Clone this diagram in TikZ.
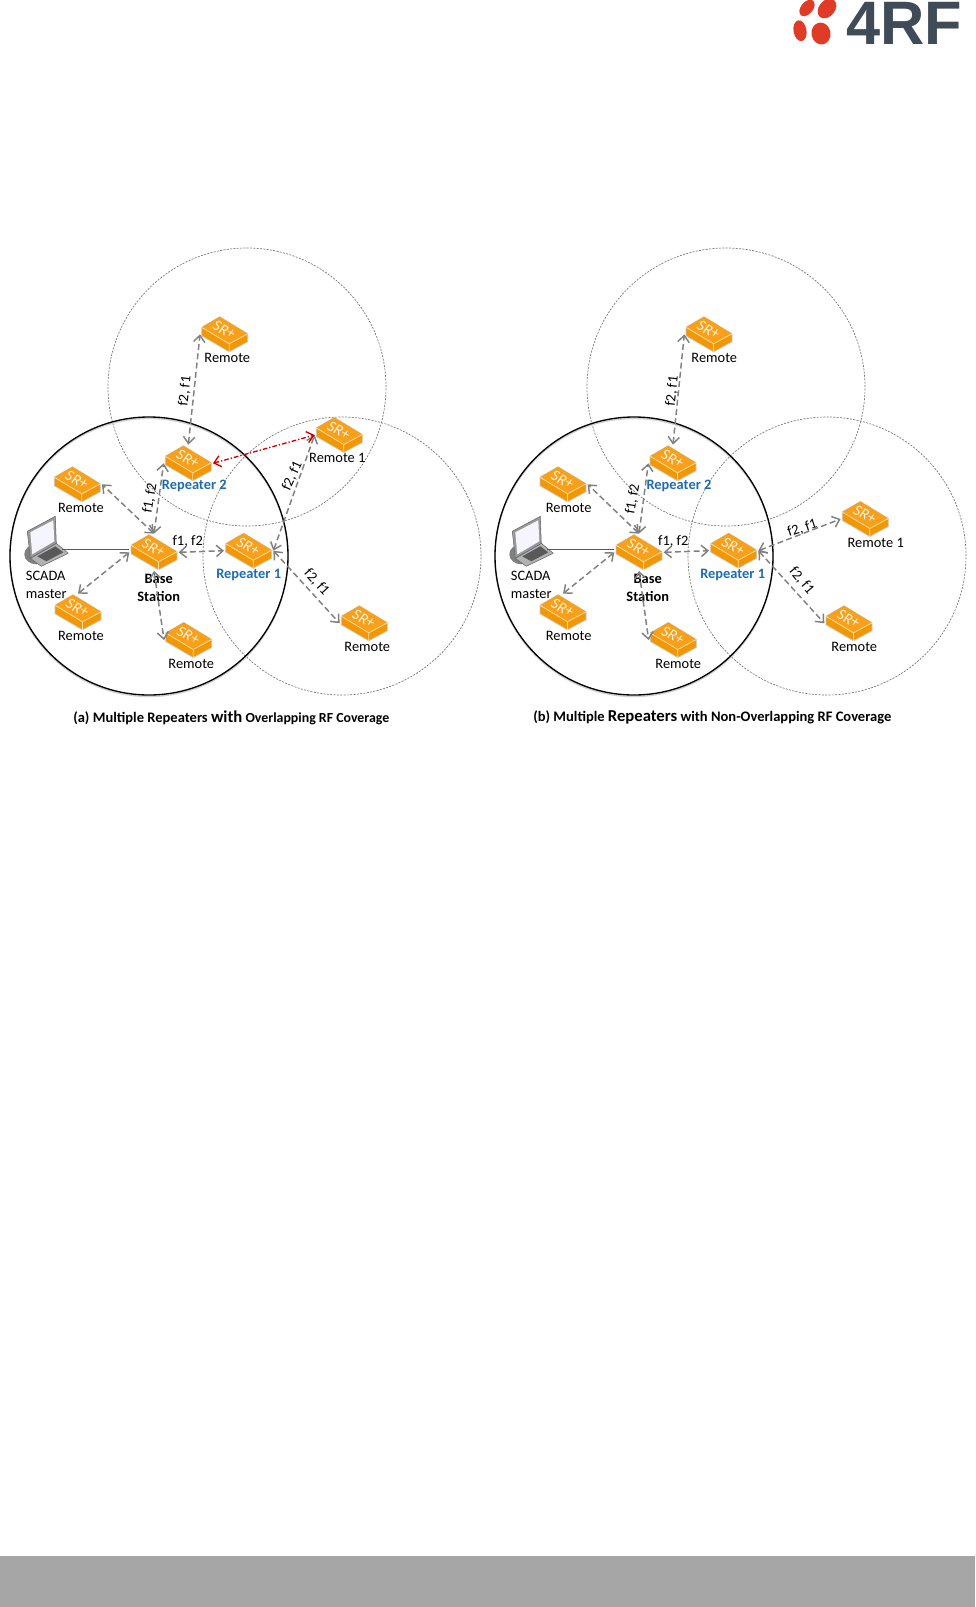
\documentclass[tikz,border=0pt]{standalone}
\usepackage{fontspec}
\setmainfont{Carlito}
\newfontfamily\logofont{Liberation Sans}
\usetikzlibrary{arrows.meta}
\definecolor{srorange}{HTML}{F8A01A}
\definecolor{srdark}{HTML}{F29700}
\definecolor{repblue}{HTML}{1F6DB0}
\definecolor{logored}{HTML}{E03B26}
\definecolor{logoslate}{HTML}{3F4B57}
\tikzset{
    srbox/.style={minimum width=37pt, minimum height=28pt, inner sep=0pt, outer sep=0pt, path picture={
        \begin{scope}[shift={(path picture bounding box.center)}]
            \fill[srdark,draw=black!22,line width=0.6pt,line join=round] (-23,-7) -- (-5,-17.5) -- (23,-0.5) -- (23,7.5) -- (4.5,17.5) -- (-23,1.5) -- cycle;
            \fill[srorange] (-23,-7) -- (-5,-17.5) -- (23,-0.5) -- (4.5,9.5) -- cycle;
            \draw[white!65!srorange,line width=0.6pt] (-23,-7) -- (4.5,9.5) -- (23,-0.5) (4.5,9.5) -- (4.5,17.5);
            \node[text=white!90!srorange,rotate=-28,font=\fontsize{11.5}{11.5}\selectfont\itshape,inner sep=0pt] (srtext) at (-0.5,-4.5) {SR+};
        \end{scope}}},
    laptop/.style={minimum width=33pt, minimum height=38pt, inner sep=0pt, outer sep=0pt, path picture={
        \begin{scope}[shift={(path picture bounding box.center)}]
            \fill[black!50] (-10,13) ellipse [x radius=12, y radius=10];
            \fill[black!30,draw=black!60,line width=0.4pt] (-16,17) -- (10,2) -- (22,12) -- (-5,25) -- cycle;
            \fill[black!65] (-9,15) -- (9,5) -- (17,11) -- (0,20) -- cycle;
            \fill[black!40,draw=black!60,line width=0.4pt] (9,-25) -- (10,2) -- (-16,17) -- (-19,-10) -- cycle;
            \fill[blue!4!white] (7,-21) -- (8,0) -- (-14,13) -- (-16,-9) -- cycle;
        \end{scope}}},
    lbl/.style={inner sep=0pt, font=\fontsize{10.8}{13.5}\selectfont},
    replbl/.style={lbl, text=repblue, font=\fontsize{10.8}{13.5}\selectfont\bfseries},
    baselbl/.style={lbl, align=center, font=\fontsize{10.8}{13.5}\selectfont\bfseries},
    caption/.style={inner sep=0pt, font=\fontsize{10.9}{12}\selectfont\bfseries},
    blackcell/.style={draw=black, line width=1pt, circle, minimum size=208.5pt, inner sep=0pt},
    cellshadow/.style={draw=black!18, line width=1pt, circle, minimum size=208.5pt, inner sep=0pt},
    greycell/.style={draw=black!55, line width=0.5pt, densely dashed, dash pattern=on 1.5pt off 1pt, circle, minimum size=208.5pt, inner sep=0pt},
    link/.style={draw, black!50, line width=1.1pt, dash pattern=on 4.5pt off 2.5pt, <->, >={Straight Barb[length=5pt,width=8.5pt]}},
    redlink/.style={draw, red!80!black, line width=1pt, dash pattern=on 3.5pt off 1.5pt on 1pt off 1.5pt, <->, >={Straight Barb[length=5pt,width=8.5pt]}}
}
\begin{document}
\begin{tikzpicture}[x=0.75pt,y=-0.75pt]
    \useasboundingbox (0,0) rectangle (975,1607);
    \fill[black!35] (0,1556) rectangle (975,1607);

    \fill[logored] (807,8) ellipse [x radius=9.5, y radius=6, rotate=50];
    \fill[logored] (827,8.5) ellipse [x radius=11, y radius=8, rotate=50];
    \fill[logored] (800,30.7) ellipse [x radius=10.5, y radius=6.5, rotate=100];
    \fill[logored] (821,33.5) ellipse [x radius=11, y radius=9.5, rotate=100];
    \node[anchor=base, inner sep=0pt, text=logoslate, font=\logofont\bfseries\fontsize{46}{46}\selectfont] (logo) at (904,44) {4RF};

    \node[greycell] (cellatop) at (247,387) {};
    \node[greycell] (cellaright) at (342,556) {};
    \node[cellshadow] (shadea) at (149,557.5) {};
    \node[blackcell] (cellabase) at (149,556) {};

    \node[srbox] (rema1) at (224.7,334.3) {};
    \node[srbox] (repa2) at (188.3,463.3) {};
    \node[srbox] (rema2) at (339.3,435) {};
    \node[srbox] (rema3) at (77.3,484.3) {};
    \node[srbox] (basea) at (154,552.3) {};
    \node[srbox] (repa1) at (248.7,550.7) {};
    \node[srbox] (rema4) at (78,612.3) {};
    \node[srbox] (rema5) at (188.7,640) {};
    \node[srbox] (rema6) at (364.3,623.3) {};
    \node[laptop] (scadaa) at (46.3,541.3) {};
    \coordinate (porta) at (62,549);

    \node[lbl] (txtrema1) at (227.3,358.3) {Remote};
    \node[replbl] (txtrepa2) at (194.3,486) {Repeater 2};
    \node[lbl] (txtrema2) at (337.3,457.7) {Remote 1};
    \node[lbl] (txtrema3) at (81,508.3) {Remote};
    \node[lbl,align=left] (txtscadaa) at (46.3,585) {SCADA\\master};
    \node[baselbl] (txtbasea) at (158.7,587.7) {Base\\Station};
    \node[replbl] (txtrepa1) at (248.7,574.7) {Repeater 1};
    \node[lbl] (txtrema4) at (81,635.7) {Remote};
    \node[lbl] (txtrema5) at (191.3,664) {Remote};
    \node[lbl] (txtrema6) at (367.3,647) {Remote};

    \path[draw,black!65,line width=0.7pt] (porta) -- (porta-|basea.west);
    \path[link] (repa2.north) -- (rema1.west);
    \path[link] (basea.north) -- (repa2.west);
    \path[link] (basea.north) -- (rema3.east);
    \path[link] (basea.west) -- (rema4.north);
    \path[link] (basea.south) -- (rema5.west);
    \path[link] (basea.east) -- (repa1.west);
    \path[link] (repa1.east) -- (rema2.west);
    \path[link] (repa1.east) -- (rema6.west);
    \path[redlink] (repa2.east) -- (rema2.west);

    \node[lbl,rotate=84] (fa1) at (185,391) {f2, f1};
    \node[lbl,rotate=80] (fa2) at (150,498.3) {f1, f2};
    \node[lbl] (fa3) at (187.7,541.7) {f1, f2};
    \node[lbl,rotate=65] (fa4) at (292.3,475.7) {f2, f1};
    \node[lbl,rotate=-48] (fa5) at (316.7,582.3) {f2, f1};

    \node[caption] (capa) at (231.3,717.7) {(a) Multiple Repeaters {\fontsize{12.5}{12}\selectfont with} {\fontsize{10.4}{12}\selectfont Overlapping RF Coverage}};

    \node[greycell] (cellbtop) at (726,387) {};
    \node[greycell] (cellbright) at (827,556) {};
    \node[cellshadow] (shadeb) at (634,557.5) {};
    \node[blackcell] (cellbbase) at (634,556) {};

    \node[srbox] (remb1) at (709,334.3) {};
    \node[srbox] (repb2) at (673,463.3) {};
    \node[srbox] (remb2) at (865.3,519) {};
    \node[srbox] (remb3) at (563,484.3) {};
    \node[srbox] (baseb) at (639,552.3) {};
    \node[srbox] (repb1) at (733.7,550.7) {};
    \node[srbox] (remb4) at (563,612.3) {};
    \node[srbox] (remb5) at (673.3,640) {};
    \node[srbox] (remb6) at (849,623.3) {};
    \node[laptop] (scadab) at (531.3,541.3) {};
    \coordinate (portb) at (547,549);

    \node[lbl] (txtremb1) at (714.3,358.3) {Remote};
    \node[replbl] (txtrepb2) at (679,486) {Repeater 2};
    \node[lbl] (txtremb2) at (875.7,542.7) {Remote 1};
    \node[lbl] (txtremb3) at (568.7,508.3) {Remote};
    \node[lbl,align=left] (txtscadab) at (531.3,585) {SCADA\\master};
    \node[baselbl] (txtbaseb) at (647.7,587.7) {Base\\Station};
    \node[replbl] (txtrepb1) at (732.7,574.7) {Repeater 1};
    \node[lbl] (txtremb4) at (568.7,635.7) {Remote};
    \node[lbl] (txtremb5) at (678.3,664) {Remote};
    \node[lbl] (txtremb6) at (854.3,647) {Remote};

    \path[draw,black!65,line width=0.7pt] (portb) -- (portb-|baseb.west);
    \path[link] (repb2.north) -- (remb1.west);
    \path[link] (baseb.north) -- (repb2.west);
    \path[link] (baseb.north) -- (remb3.east);
    \path[link] (baseb.west) -- (remb4.north);
    \path[link] (baseb.south) -- (remb5.west);
    \path[link] (baseb.east) -- (repb1.west);
    \path[link] (repb1.east) -- (remb2.west);
    \path[link] (repb1.east) -- (remb6.west);

    \node[lbl,rotate=84] (fb1) at (672.3,391) {f2, f1};
    \node[lbl,rotate=80] (fb2) at (632.7,499) {f1, f2};
    \node[lbl] (fb3) at (673.3,541.7) {f1, f2};
    \node[lbl,rotate=18] (fb4) at (802.3,528.3) {f2, f1};
    \node[lbl,rotate=-50] (fb5) at (801.7,580.7) {f2, f1};

    \node[caption] (capb) at (712.3,717.7) {(b) Multiple {\fontsize{12.5}{12}\selectfont Repeaters} with Non-Overlapping RF Coverage};
\end{tikzpicture}
\end{document}
